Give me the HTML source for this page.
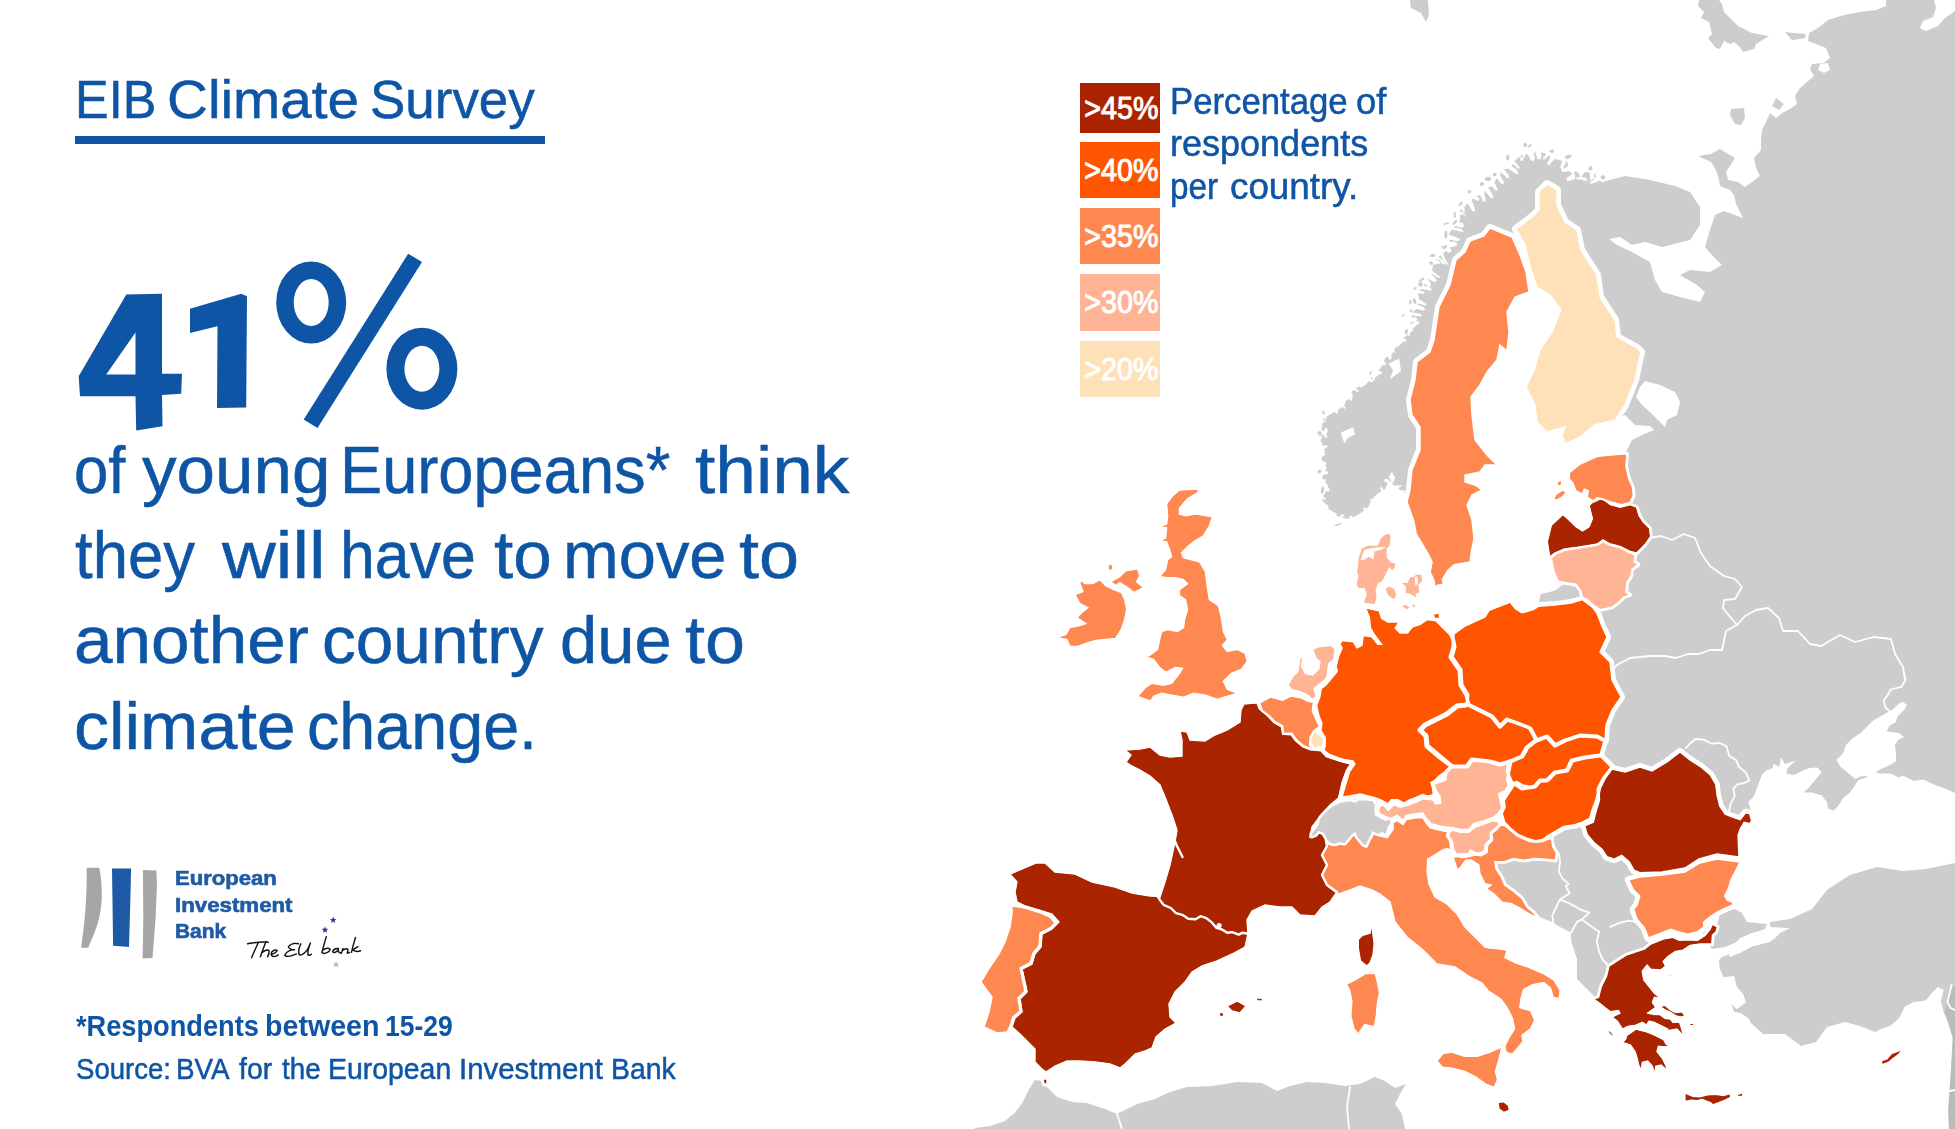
<!DOCTYPE html>
<html lang="en">
<head>
<meta charset="utf-8">
<title>EIB Climate Survey</title>
<style>
html,body{margin:0;padding:0;background:#fff;}
body{width:1955px;height:1129px;position:relative;overflow:hidden;font-family:"Liberation Sans",sans-serif;color:#0e55a5;}
#map{position:absolute;left:0;top:0;}
#map .g path{fill:#cdcdcd;stroke:none;}
#map .w path{fill:#fff;stroke:none;}
#map .dk path{fill:#bbb;stroke:none;}
#map .gt path{fill:#cdcdcd;stroke:#fff;stroke-width:5;paint-order:stroke;stroke-linejoin:round;}
#map .l polyline{fill:none;stroke:#fff;stroke-width:1.8;stroke-linejoin:round;stroke-linecap:round;}
#map .h1 use{fill:none;stroke:#fff;stroke-width:5;stroke-linejoin:round;}
#map .h2 use{fill:none;stroke:#fff;stroke-width:8;stroke-linejoin:round;}
#map .h1 use.th{stroke-width:2.4;}
#map .h2 use.th{stroke-width:4.4;}
#map .l2 polyline{fill:none;stroke:#fff;stroke-width:2.4;stroke-linejoin:round;stroke-linecap:round;}
#map .l2 circle{fill:#fff;}
.c45{fill:#aa2400;} .c40{fill:#ff5500;} .c35{fill:#ff8750;} .c30{fill:#ffb496;} .c20{fill:#ffe1b9;}
.t{position:absolute;white-space:pre;transform-origin:0 0;line-height:1;}
.bw,.tw,.f2w,.lw{-webkit-text-stroke:0.5px #0e55a5;}
.bw{font-size:66px;}.tw{font-size:53px;}.f1w{font-size:29.5px;font-weight:bold;}.f2w{font-size:29.5px;}.lw{font-size:36px;}
.low{font-size:20px;font-weight:bold;color:#1f5aa6;-webkit-text-stroke:0.6px #1f5aa6;}
#title{left:75px;top:74px;font-size:53px;}
#rule{position:absolute;left:75px;top:136px;width:470px;height:7.5px;background:#0e55a5;}
.b{font-size:66px;left:73px;}
#b1{top:437.5px;word-spacing:-3.4px;} #b2{top:522.5px;word-spacing:1px;} #b3{top:607.5px;letter-spacing:0.65px;} #b4{top:693px;letter-spacing:0.2px;}
#f1{left:76px;top:1011.3px;font-size:29.5px;font-weight:bold;transform:scaleX(.926);}
#f2{left:76px;top:1053.8px;font-size:29.5px;transform:scaleX(.968);}
.lg{position:absolute;left:1080px;width:80px;color:#fff;font-weight:normal;-webkit-text-stroke:1px #fff;font-size:31px;text-align:center;}
.lg span{display:inline-block;transform-origin:50% 50%;transform:translateX(1.3px) scaleX(.925);letter-spacing:0;}
#l1{top:83px;height:49.5px;line-height:52px;background:#aa2400;}
#l2{top:141.5px;height:56px;line-height:58px;background:#ff5500;}
#l3{top:208px;height:56px;line-height:58px;background:#ff8750;}
#l4{top:274px;height:56.5px;line-height:58px;background:#ffb496;}
#l5{top:341px;height:56px;line-height:58px;background:#ffe1b9;}
.lt{font-size:36px;left:1170px;}
#lt1{top:84.3px;transform:scaleX(.978);} #lt2{top:126.2px;letter-spacing:.1px;} #lt3{top:168.5px;letter-spacing:.15px;}
.lo{font-size:21px;font-weight:bold;left:176px;color:#1f5aa6;}
#lo1{top:868.4px;letter-spacing:.4px;} #lo2{top:894.7px;letter-spacing:.65px;} #lo3{top:921px;}
#eu{left:247px;top:938px;font-size:22px;font-style:italic;color:#111;font-family:"Liberation Serif",serif;transform:rotate(-5deg) skewX(-8deg);}
#deco{position:absolute;left:0;top:0;}
</style>
</head>
<body>
<svg id="map" width="1955" height="1129" viewBox="0 0 1955 1129">
<defs>
<path id="p_sweden" d="M1490 228L1512 237L1520 255L1526 272L1529 292L1515 297L1507 312L1509 332L1507 351L1500 345L1497 360L1487 372L1480 385L1471 397L1472 415L1475 440L1487 455L1497 465L1485 465L1480 472L1465 475L1465 482L1475 485L1482 490L1472 495L1467 505L1472 520L1474 538.6L1471.2 552.6L1470.2 561.9L1454.4 564.7L1447.9 570.2L1442.3 579.5L1443.3 584.2L1437.7 585.1L1434.9 587L1434 580.5L1430.2 572.1L1432.1 561.9L1428.4 554.4L1421.9 543.3L1416.3 534L1413.5 520L1407 502L1410 490L1412 470L1420 450L1420 427L1412 415L1410 400L1415 380L1417 362L1430 352L1434 340L1439 307L1450 285L1456 260L1465 252L1470 241L1484 236Z"/>
<mask id="m_sweden" maskUnits="userSpaceOnUse" x="1399" y="220" width="138" height="375"><rect x="1399" y="220" width="138" height="375" fill="#fff"/><use href="#p_sweden" fill="#000" stroke="#fff" stroke-width="1.4"/></mask>
<path id="p_finland" d="M1547 184L1557 190L1557 205L1565 222L1577 230L1581 250L1597 275L1600 297L1615 320L1617 337L1637 348L1641 352L1635 380L1625 405L1615 420L1595 425L1580 437L1565 444L1562 435L1565 427L1547 432L1537 422L1535 405L1526 387L1534 370L1540 350L1552 332L1561 310L1550 295L1537 287L1531 270L1525 245L1516 229L1532 217L1539 210L1539 192Z"/>
<mask id="m_finland" maskUnits="userSpaceOnUse" x="1508" y="176" width="141" height="276"><rect x="1508" y="176" width="141" height="276" fill="#fff"/><use href="#p_finland" fill="#000" stroke="#fff" stroke-width="1.4"/></mask>
<path id="p_estonia" d="M1569.4 472.8L1579.3 464.6L1597.3 456.4L1613.7 454.7L1626.8 453.9L1625.9 466.2L1628.4 477.7L1632.5 487.5L1633.3 495.7L1630 502.3L1621.8 504.7L1612 502.3L1600.5 498.2L1594 501.4L1587.4 497.3L1588.3 490.8L1584.2 489.1L1582.5 494.1L1576 490.8L1572.7 482.6L1569.4 479.3ZM1557.1 481.8L1562.1 480.1L1561.2 485.1L1558 486.7ZM1553 499.8L1556.3 494.1L1562.9 490L1566.1 492.4L1562.9 496.5L1557.1 499.8Z"/>
<mask id="m_estonia" maskUnits="userSpaceOnUse" x="1545" y="445.9" width="96.3" height="66.8"><rect x="1545" y="445.9" width="96.3" height="66.8" fill="#fff"/><use href="#p_estonia" fill="#000" stroke="#fff" stroke-width="1.4"/></mask>
<path id="p_latvia" d="M1547.3 541.6L1551.4 525.2L1562.9 514.5L1569.4 520.3L1576 526.8L1582.5 530.9L1589.1 526.8L1592.4 518.6L1589.1 505.5L1597.3 498.2L1603.8 499.8L1610.4 504.7L1620.2 507.2L1630 504.7L1636.6 507.2L1639 515.4L1643.1 521.9L1649.7 528.5L1650.5 536.7L1644.8 544.8L1636.6 553L1630 551.4L1620.2 546.5L1610.4 544L1603 539.9L1597.3 544L1587.4 545.7L1577.6 547.3L1564.5 548.9L1554.7 553L1549.8 557.1Z"/>
<mask id="m_latvia" maskUnits="userSpaceOnUse" x="1539.3" y="490.2" width="119.2" height="74.9"><rect x="1539.3" y="490.2" width="119.2" height="74.9" fill="#fff"/><use href="#p_latvia" fill="#000" stroke="#fff" stroke-width="1.4"/></mask>
<path id="p_lithuania" d="M1551.4 558L1556.3 553.9L1566.1 550.1L1579.3 548.1L1589.1 546.5L1598.1 544.8L1603 541.6L1609.6 545.2L1620.2 547.8L1629.2 552.7L1635 554.7L1634.1 562.1L1638.2 564.5L1631.7 569.4L1630.9 576L1626.8 582.5L1625.9 592.4L1630 594.8L1623.5 597.3L1618.6 602.2L1612 607.1L1600.5 609.6L1594 605.5L1587.4 599.7L1582.5 597.3L1580.9 590.7L1576 584.2L1564.5 582.5L1558 580.9L1553.9 571.1L1552.2 562.9Z"/>
<mask id="m_lithuania" maskUnits="userSpaceOnUse" x="1543.4" y="533.6" width="102.8" height="84"><rect x="1543.4" y="533.6" width="102.8" height="84" fill="#fff"/><use href="#p_lithuania" fill="#000" stroke="#fff" stroke-width="1.4"/></mask>
<path id="p_denmark" d="M1355.8 585.1L1357.7 575.8L1356.3 572.1L1357.7 563.7L1357.7 559.1L1361.4 547.9L1367.9 545.1L1377.2 545.1L1380 538.6L1384.7 534L1390.2 533L1391.2 538.6L1390.2 546L1387.4 548.8L1387.4 557.2L1391.2 561.9L1395.8 562.8L1395.8 566.5L1393 571.2L1389.3 568.4L1385.6 575.8L1382.8 581.4L1378.1 584.2L1376.3 590.7L1377.2 597.2L1375.3 604.7L1365.1 603.7L1363.3 601.9L1366 594.4L1364.2 588.8L1358.6 588.8ZM1384.7 588.8L1389.3 585.6L1394.9 588.8L1396.7 594.4L1395.8 599.1L1392.1 599.1L1387.4 595.3ZM1400.5 582.3L1407 582.3L1409.8 576.7L1414.4 575.8L1415.3 574L1421.9 574L1422.8 581.4L1419.1 585.1L1420 592.6L1416.3 594.4L1417.2 600L1414.4 597.2L1409.8 594.4L1405.1 593.5L1405.1 587ZM1401.4 606.5L1405.1 603.7L1410.7 607.4L1407 610.2ZM1412.6 602.8L1416.3 605.6L1414.4 608.4L1411.8 606Z"/>
<mask id="m_denmark" maskUnits="userSpaceOnUse" x="1347.8" y="525" width="83" height="93.2"><rect x="1347.8" y="525" width="83" height="93.2" fill="#fff"/><use href="#p_denmark" fill="#000" stroke="#fff" stroke-width="1.4"/></mask>
<path id="p_germany" d="M1365.6 607.9L1379.2 610.9L1381.6 618.3L1387.8 622L1398.9 622L1395.2 628.2L1400.1 633.1L1407.5 633.1L1412.4 626.9L1419.8 624.5L1427.2 619.6L1435.8 620.8L1442 626.9L1449.4 634.3L1453.1 641.7L1454 647L1451 657L1460 670L1461 685L1467 695L1466 705L1457 706L1447 714L1435 720L1425 725L1420 730L1426 736L1427 746L1440 757L1451 766L1446 771L1439 776L1435.1 780L1431 782.5L1432.6 788.2L1433.4 794.8L1427.7 796.1L1422.7 794.4L1416.1 797.3L1409.5 799.8L1403.8 803.1L1398 799.8L1391.4 799.8L1388.1 803.9L1380.7 799.8L1374.9 797.7L1370 796.5L1360 794L1350 796L1342.1 797L1343.2 792.8L1346.4 782.1L1349.6 771.5L1354.9 764L1352.8 760.9L1345.3 759.8L1337.9 757.7L1329.4 754.5L1324 750.2L1325.1 746L1325.1 737.4L1320.9 730L1321.9 723.6L1318.7 715.1L1316.6 705.5L1319.8 697L1321.3 688.5L1326.2 684.8L1331.1 678.7L1337.3 671.3L1336.1 666.4L1338.5 656.5L1342.2 647.9L1339.8 644.2L1342.2 640.5L1353.3 641.7L1357 647.9L1361.9 645.4L1363.2 635.6L1371.8 636.8L1377.9 644.2L1381.6 644.2L1377.9 639.3L1374.2 634.3L1370.5 628.2L1369.3 617.1ZM1433 614L1439 613L1440 618L1435 619Z"/>
<mask id="m_germany" maskUnits="userSpaceOnUse" x="1308.6" y="599.9" width="166.4" height="212"><rect x="1308.6" y="599.9" width="166.4" height="212" fill="#fff"/><use href="#p_germany" fill="#000" stroke="#fff" stroke-width="1.4"/><use href="#p_france_spain" fill="#000"/></mask>
<path id="p_poland" d="M1454 634L1465 626L1485 617L1489.1 610.4L1510.4 602.2L1515.4 608.7L1521.9 612.8L1533.4 609.6L1538.3 606.3L1554.7 605.1L1571.1 603L1582.5 599.7L1592.4 607.1L1597.3 613.7L1601.4 625L1607 637L1600 652L1610 662L1612 680L1621 697L1612 710L1606 725L1605 740L1597 736L1580 735L1565 740L1555 745L1547 736L1537 740L1530 727L1517 722L1507 719L1500 726L1492 716L1480 710L1470 705L1467 695L1461 685L1460 670L1451 657L1454 647Z"/>
<mask id="m_poland" maskUnits="userSpaceOnUse" x="1443" y="591.7" width="186" height="161.3"><rect x="1443" y="591.7" width="186" height="161.3" fill="#fff"/><use href="#p_poland" fill="#000" stroke="#fff" stroke-width="1.4"/><use href="#p_lithuania" fill="#000"/></mask>
<path id="p_czechia" d="M1420 730L1425 725L1435 720L1447 714L1457 706L1466 705L1470 706L1480 711L1492 717L1500 727L1507 720L1517 724L1530 729L1536 740L1527 747L1522 756L1510 761L1500 764L1490 761L1472 759L1467 766L1452 766L1440 757L1427 746L1426 736Z"/>
<mask id="m_czechia" maskUnits="userSpaceOnUse" x="1412" y="697" width="132" height="77"><rect x="1412" y="697" width="132" height="77" fill="#fff"/><use href="#p_czechia" fill="#000" stroke="#fff" stroke-width="1.4"/></mask>
<path id="p_slovakia" d="M1536 741L1547 737L1555 746L1565 741L1580 736L1597 737L1604 741L1600 755L1585 757L1572 760L1567 770L1555 772L1547 780L1540 780L1535 786L1522 788L1512 781L1508 771L1510 762L1522 757L1527 748Z"/>
<mask id="m_slovakia" maskUnits="userSpaceOnUse" x="1500" y="728" width="112" height="68"><rect x="1500" y="728" width="112" height="68" fill="#fff"/><use href="#p_slovakia" fill="#000" stroke="#fff" stroke-width="1.4"/></mask>
<path id="p_hungary" d="M1516.6 783.3L1522.4 786.6L1530 788.2L1535 787L1540 781L1547 781L1555 773L1567 771L1572 761L1585 758L1600 756L1611 767L1604 777L1599 787L1595.8 800L1592.1 809.9L1589.7 818.5L1582.3 822.2L1574.9 824.6L1563.8 826.5L1553.9 832L1547.8 835.7L1542.9 839.4L1535.5 840.6L1526.8 838.2L1518.2 834.5L1510.8 828.3L1504.7 822.2L1502.2 813.5L1505.1 807.2L1504.3 800.6L1508.4 794L1513.3 786.6Z"/>
<mask id="m_hungary" maskUnits="userSpaceOnUse" x="1494.2" y="748" width="124.8" height="100.6"><rect x="1494.2" y="748" width="124.8" height="100.6" fill="#fff"/><use href="#p_hungary" fill="#000" stroke="#fff" stroke-width="1.4"/></mask>
<path id="p_austria" d="M1379 810L1379.1 807.2L1383.2 804.7L1388.1 810.5L1393.9 804.7L1400.5 807.2L1409.5 804.7L1416.1 802.2L1422.7 798.9L1432.6 799.8L1435.9 803.9L1440.8 803.1L1440 796.5L1435.9 789.9L1434.3 784.1L1441.7 781.6L1445.8 780L1447 772L1452 767L1467 767L1472 760L1490 762L1500 765L1510 762L1508 771L1506.7 780L1508.4 785L1505.1 790.7L1498.5 794L1500.1 800.6L1501.8 808L1498.5 813L1493.6 817.1L1485.3 820.4L1473.8 823.7L1468.8 829.4L1460.6 829.4L1452.4 827.8L1440 826.1L1431 823.7L1426 817.9L1422.7 813L1416.1 813.8L1406.2 815.4L1403 820.4L1397.2 815.4L1390.6 818.7L1384.8 816.2L1379 813Z"/>
<mask id="m_austria" maskUnits="userSpaceOnUse" x="1371" y="752" width="147" height="85.4"><rect x="1371" y="752" width="147" height="85.4" fill="#fff"/><use href="#p_austria" fill="#000" stroke="#fff" stroke-width="1.4"/></mask>
<path id="p_slovenia" d="M1449.1 832.7L1452.4 830.2L1460.6 832.3L1468.8 832.3L1475.4 827L1485.3 823.7L1491.9 821.2L1497.7 821.2L1499.3 824.5L1495.2 828.6L1490.3 832.7L1490.3 839.3L1485.3 844.3L1484.5 850.8L1479.6 853.3L1474.6 852.5L1470.5 850L1468 854.1L1460.6 853.3L1456.5 854.1L1453.2 848.4L1452.4 841L1449.1 836.8Z"/>
<mask id="m_slovenia" maskUnits="userSpaceOnUse" x="1441.1" y="813.2" width="66.2" height="48.9"><rect x="1441.1" y="813.2" width="66.2" height="48.9" fill="#fff"/><use href="#p_slovenia" fill="#000" stroke="#fff" stroke-width="1.4"/></mask>
<path id="p_croatia" d="M1453.2 857.4L1457.3 856.6L1463.9 857.5L1468.8 856.6L1475.4 855L1481.2 855.8L1487 852.5L1487.8 845.1L1492.7 840.1L1491.9 833.5L1496.9 829.4L1501 824.9L1505.9 826.1L1511.7 831.1L1519.9 836.8L1530 841.8L1534.2 841.3L1541.6 841.9L1547.8 839.4L1551.5 838.2L1552.7 846.8L1556.4 853L1555.2 860.3L1545.3 859.1L1534.2 858.5L1524.4 860.3L1513.3 858.5L1504.7 861.6L1494.8 861.6L1496.1 869L1501 876.4L1504.7 885L1513.3 891.1L1521.9 898.5L1526.8 907.1L1534.2 913.3L1537.9 918.2L1530.5 914.5L1518.2 907.1L1510.8 903.4L1502.2 902.2L1493.6 893.6L1486.2 888.7L1491.1 885L1485 883.7L1480 873.9L1478.8 865L1471.4 860L1466 860L1463.1 863.5L1460.6 867.3L1457.3 869.8Z"/>
<mask id="m_croatia" maskUnits="userSpaceOnUse" x="1445.2" y="816.9" width="119.2" height="109.3"><rect x="1445.2" y="816.9" width="119.2" height="109.3" fill="#fff"/><use href="#p_croatia" fill="#000" stroke="#fff" stroke-width="1.4"/></mask>
<path id="p_romania" d="M1612 769L1625 772L1640 767L1652 771L1667 762L1680 752L1690 760L1700.8 766.8L1710.3 774.9L1715.8 784.4L1717.1 795.2L1719.8 806.1L1725.2 814.2L1732 816.9L1740.2 819.6L1745.6 812.8L1749.6 813.5L1751.7 821L1749.6 823.7L1744.2 822.3L1740.2 829.1L1738.1 835L1738.5 846L1739 857L1717 854L1699 859L1685 868L1662 872L1640 872.7L1634 870.2L1629.1 861.6L1621.7 855.4L1614.3 859.1L1606.9 856.7L1602 849.3L1594.6 843.1L1587.2 834.5L1584.7 825.9L1593.3 822.2L1595.8 812.3L1599.5 800L1599 789L1604 779Z"/>
<mask id="m_romania" maskUnits="userSpaceOnUse" x="1576.7" y="744" width="183" height="136.7"><rect x="1576.7" y="744" width="183" height="136.7" fill="#fff"/><use href="#p_romania" fill="#000" stroke="#fff" stroke-width="1.4"/></mask>
<path id="p_bulgaria" d="M1628.7 880L1640 877L1662 875L1685 872L1700 863L1717 859L1740 862L1735 872L1730.9 880L1728.4 888.6L1724.7 896L1727.2 900.3L1732.1 902.2L1733.4 904.6L1724.7 908.3L1717.3 912L1710 916.9L1703.8 921.9L1703.8 926.8L1697.6 931.7L1687.8 934.2L1677.9 931.7L1670.5 929.3L1658.2 934.2L1648.4 937.9L1644.7 928L1637.3 919.4L1633.6 909.6L1637.3 904.6L1639.8 896L1633.6 889.9Z"/>
<mask id="m_bulgaria" maskUnits="userSpaceOnUse" x="1620.7" y="851" width="127.3" height="94.9"><rect x="1620.7" y="851" width="127.3" height="94.9" fill="#fff"/><use href="#p_bulgaria" fill="#000" stroke="#fff" stroke-width="1.4"/></mask>
<path id="p_greece" d="M1609 966.2L1626.2 955.1L1644.7 949L1650.8 944L1663.2 939.1L1673 937.3L1679.2 940.3L1687.8 939.7L1697.6 940.3L1705 935.4L1710 929.3L1712.4 924.3L1717.3 926.8L1716.1 931.7L1712.4 935.4L1711.8 944L1700.1 944L1690.2 945.3L1682.9 950.2L1675.5 951.4L1668.1 956.4L1663.2 961.3L1665.6 966.2L1660.7 969.9L1650.8 969.3L1647.1 965L1642.2 971.1L1643.8 979.9L1649.1 986.6L1654.4 993.2L1661 998.5L1654.4 997.2L1652.4 1002.5L1655.7 1007.2L1647.7 1013.1L1654.4 1014.5L1659.7 1014.5L1665 1018.4L1670.3 1019.1L1673 1022.4L1679.6 1022.4L1681 1026.4L1683.6 1036.4L1677 1029.1L1669 1030.4L1662.4 1032.4L1667.7 1029.1L1662.4 1026.4L1654.4 1022.4L1649.1 1021.1L1646.4 1025.1L1642.4 1022.4L1635.8 1025.1L1627.8 1026.4L1622.5 1029.1L1617.2 1021.1L1611.9 1017.1L1619.9 1013.1L1618.5 1010.5L1610.6 1011.8L1605.2 1007.8L1598.6 1002.5L1593.9 999.2L1598.6 997.2L1601.3 986.6L1606.6 975.9ZM1626.5 1035.7L1635.8 1029.1L1646.4 1031.7L1655.7 1035.7L1663.7 1039.7L1666.3 1044.4L1671.7 1045.7L1665 1047L1658.4 1046.3L1657 1051.7L1662.4 1058.3L1666.3 1066.3L1667 1070.3L1661 1064.9L1655.7 1066.3L1655.1 1075.6L1652.4 1066.3L1647.7 1061L1642.4 1062.3L1641.1 1070.3L1639.1 1066.3L1637.1 1058.3L1635.1 1051.7L1630.5 1045L1622.5 1042.4L1625.8 1039ZM1659.7 1006.5L1665 1005.2L1670.3 1009.8L1675.6 1012.5L1682.3 1011.8L1684.9 1015.8L1681 1017.1L1675.6 1015.8L1671.7 1013.1L1665 1009.8ZM1684.9 1092.8L1687.6 1094.2L1692.9 1096.2L1699.6 1096.8L1707.5 1094.8L1715.5 1094.2L1723.5 1095.5L1730.1 1093.5L1730.8 1097.5L1723.5 1100.8L1712.8 1104.8L1710.8 1102.8L1702.2 1099.5L1696.9 1100.8L1691.6 1100.1L1684.9 1101.5ZM1735.4 1096.8L1738.1 1094.2L1742.7 1092.8L1742.7 1096.2ZM1608 1030.4L1610 1030.6L1614.5 1036.4L1612 1036L1609 1033.5ZM1689 1023L1694 1023.5L1693.5 1025.8L1690 1025.5ZM1659.7 977.3L1663.7 978.5L1663 979.8L1660 979ZM1669 974L1671.7 975L1671.3 976.8L1669 976.2Z"/>
<mask id="m_greece" maskUnits="userSpaceOnUse" x="1585.9" y="916.3" width="164.8" height="196.5"><rect x="1585.9" y="916.3" width="164.8" height="196.5" fill="#fff"/><use href="#p_greece" fill="#000" stroke="#fff" stroke-width="1.4"/></mask>
<path id="p_cyprus" d="M1880.9 1063.3L1882.4 1060.3L1886.9 1058.8L1891.4 1053.6L1897.4 1051.3L1902.6 1049.1L1898.9 1054.3L1892.9 1058.8L1888.4 1062.5L1883.1 1064.3Z"/>
<mask id="m_cyprus" maskUnits="userSpaceOnUse" x="1872.9" y="1041.1" width="37.7" height="31.2"><rect x="1872.9" y="1041.1" width="37.7" height="31.2" fill="#fff"/><use href="#p_cyprus" fill="#000" stroke="#fff" stroke-width="1.4"/></mask>
<path id="p_malta" d="M1498 1102.5L1503.5 1101.5L1508.5 1105.5L1509.5 1110.5L1504 1112.5L1499 1109Z"/>
<mask id="m_malta" maskUnits="userSpaceOnUse" x="1490" y="1093.5" width="27.5" height="27"><rect x="1490" y="1093.5" width="27.5" height="27" fill="#fff"/><use href="#p_malta" fill="#000" stroke="#fff" stroke-width="1.4"/></mask>
<path id="p_italy" d="M1326 841L1337 845L1347 841L1354 831L1360 838L1367 843L1372 833L1380 836L1387.3 837.7L1393.1 829.4L1393.1 822.8L1397.2 820.4L1403 824.5L1406.2 819.5L1416.1 817.9L1422.7 817.5L1426 822.8L1430.1 827.8L1440 830.2L1447.6 831.9L1446.4 836L1449.7 841L1450.5 847.5L1452.2 852.5L1454.5 855.5L1452.4 851L1447.4 848.4L1442.5 850L1433.4 855.8L1427.7 859.1L1427 872L1429 884L1435 897L1447 904L1457 914L1465 927L1475 937L1485 947L1490.1 948L1500.7 949.1L1507.1 950.2L1504.9 957.6L1515.6 962.9L1528.3 967.2L1543.2 973.5L1553.8 979.9L1560.2 990.5L1559.2 998.5L1553.3 997.4L1550.5 988.2L1544 982.6L1532.6 984.6L1523.5 989.5L1520.9 999L1519.8 1007.6L1530.5 1010.7L1534.7 1020.3L1530.5 1028.8L1522 1035.2L1523 1041.6L1517.7 1047.9L1512.4 1054.3L1506 1052.2L1504.9 1045.8L1509.2 1037.3L1514.5 1028.8L1512.4 1018.2L1507.1 1007.6L1500.7 999L1487.9 990.5L1482 983L1470 977L1455 967L1437 964L1422 949L1407 937L1395 922L1390 902L1380 894L1372 890L1360 886L1350 890L1339 894L1327 885L1322 875L1327 865L1322 855L1327 846ZM1436.9 1060.7L1443.3 1053.3L1451.8 1052.2L1464.6 1056.4L1477.3 1056.4L1490.1 1052.2L1501.8 1046.9L1498.6 1060.7L1495.4 1071.3L1497.5 1079.8L1494.3 1087.3L1485.8 1084.1L1475.2 1076.6L1464.6 1071.3L1451.8 1068.1L1442.2 1067.1ZM1346.6 984.2L1355.1 979.9L1365.7 973.5L1375.3 973.5L1377.4 982L1379.5 992.7L1377.4 1003.3L1376.3 1016.1L1374.2 1026.7L1364.6 1024.6L1358.3 1034.1L1354 1028.8L1350.8 1016.1L1351.9 1001.2L1349.8 990.5Z"/>
<mask id="m_italy" maskUnits="userSpaceOnUse" x="1314" y="809.5" width="254.2" height="285.8"><rect x="1314" y="809.5" width="254.2" height="285.8" fill="#fff"/><use href="#p_italy" fill="#000" stroke="#fff" stroke-width="1.4"/></mask>
<path id="p_portugal" d="M1012 906L1025 908L1041 913L1050 917L1055 923L1050 928L1040 933L1039 946L1033 953L1030 963L1020 968L1023 982L1025 991L1018 998L1020 1011L1013 1017L1010 1026L1007 1032L997 1033L984 1027L989 1012L992 997L986 989L981 982L990 967L999 954L1005 942L1010 927L1012 914Z"/>
<mask id="m_portugal" maskUnits="userSpaceOnUse" x="973" y="898" width="90" height="143"><rect x="973" y="898" width="90" height="143" fill="#fff"/><use href="#p_portugal" fill="#000" stroke="#fff" stroke-width="1.4"/></mask>
<path id="p_uk" d="M1179.5 490L1197.5 489L1198.5 492L1187.5 498.9L1179.5 507.9L1179.5 513.9L1185.5 515.9L1195.5 513.9L1212.4 516.9L1209.4 525.8L1203.4 535.8L1193.5 541.8L1187.5 546.8L1181.5 552.8L1183.5 557.7L1191.5 559.7L1199.5 561.7L1205.4 571.7L1207.4 587.6L1209.4 599.6L1218.4 605.6L1221.4 617.5L1223.4 631.5L1227.4 639.5L1222.4 645.4L1227.4 651.4L1237.3 649.4L1245.3 653.4L1247.3 661.4L1241.3 669.4L1231.4 673.3L1223.4 681.3L1227.4 689.3L1237.3 693.3L1223.4 697.3L1217.4 699.3L1205.4 695.3L1193.5 693.3L1183.5 697.3L1171.6 695.3L1161.6 693.3L1153.6 696.3L1150.6 701.2L1137.7 696.3L1145.6 687.3L1151.6 683.3L1163.6 685.3L1171.6 683.3L1179.5 673.3L1182.5 668.4L1175.5 667.4L1165.6 672.4L1159.6 667.4L1153.6 659.4L1147.6 657.4L1137.7 659.4L1149.6 655.4L1157.6 649.4L1159.6 639.5L1161.6 631.5L1167.6 629.5L1177.5 631.5L1183.5 627.5L1184.5 619.5L1187.5 609.6L1185.5 599.6L1179.5 595.6L1179.5 589.6L1187.5 583.6L1183.5 579.7L1175.5 577.7L1167.6 577.7L1159.6 576.7L1165.6 569.7L1167.6 559.7L1171.6 556.7L1169.6 549.8L1166.6 541.8L1159.6 541.8L1165.6 537.8L1166.6 527.8L1159.6 526.8L1166.6 523.9L1167.6 515.9L1166.6 503.9L1172.5 495.9ZM1110.8 581.7L1119.7 576.7L1125.7 570.7L1137.7 568.7L1139.7 575.7L1136.7 581.7L1143.6 587.6L1133.7 592.6L1127.7 587.6L1119.7 582.7L1115.7 585.6Z"/>
<mask id="m_uk" maskUnits="userSpaceOnUse" x="1102.8" y="481" width="152.5" height="228.2"><rect x="1102.8" y="481" width="152.5" height="228.2" fill="#fff"/><use href="#p_uk" fill="#000" stroke="#fff" stroke-width="1.4"/></mask>
<path id="p_ireland" d="M1080.9 579.7L1084.8 583.6L1092.8 583.6L1099.8 579.7L1105.8 585.6L1113.7 589.6L1121.7 592.6L1124.7 599.6L1126.7 609.6L1124.7 619.5L1121.7 628.5L1115.7 638.5L1105.8 639.5L1095.8 640.5L1085.8 643.4L1077.9 646.4L1069.9 646.4L1066.9 639.5L1056.9 637.5L1065.9 634.5L1069.9 627.5L1079.9 625.5L1085.8 623.5L1076.9 617.5L1082.9 611.6L1087.8 607.6L1079.9 603.6L1074.9 594.6L1082.9 591.6L1079.9 583.6ZM1108 565L1111.5 563.5L1112.8 567L1112 570.7L1108.5 570Z"/>
<mask id="m_ireland" maskUnits="userSpaceOnUse" x="1048.9" y="555.5" width="85.8" height="98.9"><rect x="1048.9" y="555.5" width="85.8" height="98.9" fill="#fff"/><use href="#p_ireland" fill="#000" stroke="#fff" stroke-width="1.4"/></mask>
<path id="p_netherlands" d="M1312.7 649.1L1318.8 646.7L1331.1 645.4L1335.4 649.1L1333.6 659L1328.7 663.9L1327.4 673.7L1326.2 678.7L1318.8 684.8L1313.9 688.5L1316.4 695.9L1312.7 699.6L1306.5 694.7L1297.9 691L1291.7 689.8L1288 684.8L1293 676.2L1297.9 671.3L1299.1 663.9L1300.3 656.5L1302.8 657.7L1301.6 666.4L1305.3 673.7L1312.7 675L1318.8 668.8L1320 661.4L1316.4 659L1313.9 652.8Z"/>
<mask id="m_netherlands" maskUnits="userSpaceOnUse" x="1280" y="637.4" width="63.4" height="70.2"><rect x="1280" y="637.4" width="63.4" height="70.2" fill="#fff"/><use href="#p_netherlands" fill="#000" stroke="#fff" stroke-width="1.4"/></mask>
<path id="p_belgium" d="M1259.7 702.9L1270.9 697L1282.6 700.2L1291.1 696L1301.7 698.1L1308.1 701.3L1313.4 702.3L1312.3 710.9L1316.6 720.4L1319.3 726.8L1314.5 730L1310.2 736.4L1309.7 743.8L1310.2 748.1L1303.8 746L1296.4 739.6L1292.1 733.2L1283.6 733.2L1282.6 725.7L1275.1 721.5L1268.7 715.1L1262.3 710.9Z"/>
<mask id="m_belgium" maskUnits="userSpaceOnUse" x="1251.7" y="688" width="75.6" height="68.1"><rect x="1251.7" y="688" width="75.6" height="68.1" fill="#fff"/><use href="#p_belgium" fill="#000" stroke="#fff" stroke-width="1.4"/></mask>
<path id="p_luxembourg" d="M1314.5 731L1320.4 735.3L1324.3 740.6L1322.5 746L1314.5 748.1L1310.7 742.8L1311.3 736.4Z"/>
<mask id="m_luxembourg" maskUnits="userSpaceOnUse" x="1302.7" y="723" width="29.6" height="33.1"><rect x="1302.7" y="723" width="29.6" height="33.1" fill="#fff"/><use href="#p_luxembourg" fill="#000" stroke="#fff" stroke-width="1.4"/></mask>
<path id="p_france_spain" d="M1244 704L1257 702.9L1259.1 708.7L1266.6 715.1L1274 722.6L1281.5 726.8L1282.6 734.3L1291.1 734.8L1295.3 740.6L1302.8 747L1310.2 749.7L1320.9 750.7L1326.2 756.6L1335.7 759.8L1342.1 761.9L1350.6 764L1346.4 770.4L1342.1 782.1L1340 791.7L1338.5 798L1330 805L1321 815L1312 827L1310 837L1317 832L1325 835L1327 846L1322 855L1327 865L1322 875L1327 885L1337 892L1330 902L1322 907L1315 916L1300 915L1292 907L1280 907L1265 905L1252 911L1247 920L1248 933.7L1242.7 932.7L1238.6 934.7L1232.4 932.1L1227.3 932.7L1222.2 929.6L1216 927.5L1211.9 922.4L1205.7 917.8L1200.6 916.2L1195.5 919.3L1188.3 918.8L1183.1 915.2L1176 913.1L1170.8 908L1163.6 904.9L1160.5 900.8L1157.5 896.2L1160 897L1165 882L1170 865L1175 842L1177 830L1172 815L1165 797L1160 785L1150 776L1140 770L1130 765L1126 762L1131 755L1125 750L1140 749L1150 747L1160 755L1170 757L1182 756L1182 740L1180 731L1187 732L1190 740L1205 741L1215 735L1227 730L1240 722L1241 710ZM1372.1 926.8L1373.1 935.3L1374.2 943.8L1373.1 954.4L1370 962.9L1366.8 966.1L1360.4 960.8L1358.3 948L1358.3 939.5L1362.5 935.3L1370 933.1L1371 927.8ZM1010 874L1036 863L1045 863L1055 872L1075 874L1092 882L1115 887L1132 893L1150 896L1157.5 896.2L1160.5 900.8L1163.6 904.9L1170.8 908L1176 913.1L1183.1 915.2L1188.3 918.8L1195.5 919.3L1200.6 916.2L1205.7 917.8L1211.9 922.4L1216 927.5L1222.2 929.6L1227.3 932.7L1232.4 932.1L1238.6 934.7L1242.7 932.7L1248 933.7L1245 947L1232 954L1217 961L1202 966L1192 972L1185 982L1175 992L1169 1004L1170 1017L1176 1023L1165 1029L1156 1037L1152 1048L1145 1051L1135 1054L1125 1064L1120 1068L1110 1064L1095 1062L1080 1061L1067 1061L1055 1066L1046 1072L1042 1069L1035 1062L1035 1049L1030 1044L1020 1034L1012 1027L1015 1018L1022 1012L1020 999L1027 992L1025 982L1022 969L1032 964L1035 954L1041 947L1042 934L1052 929L1059 922L1052 914L1042 911L1025 906L1017 902L1015 892L1017 882ZM1227 1006L1237 1001L1246 1006L1240 1013L1232 1011ZM1256 998L1262 998L1263 1001L1257 1001ZM1219 1013L1223 1012L1224 1016L1220 1017ZM1043 1079L1047 1079L1047 1084L1044 1084Z"/>
<mask id="m_france_spain" maskUnits="userSpaceOnUse" x="1002" y="694.9" width="380.2" height="397.1"><rect x="1002" y="694.9" width="380.2" height="397.1" fill="#fff"/><use href="#p_france_spain" fill="#000" stroke="#fff" stroke-width="1.4"/></mask>
<mask id="m_all" maskUnits="userSpaceOnUse" x="0" y="0" width="1955" height="1129"><rect width="1955" height="1129" fill="#fff"/><g fill="#000">
<use href="#p_sweden"/>
<use href="#p_finland"/>
<use href="#p_estonia"/>
<use href="#p_latvia"/>
<use href="#p_lithuania"/>
<use href="#p_denmark"/>
<use href="#p_germany"/>
<use href="#p_poland"/>
<use href="#p_czechia"/>
<use href="#p_slovakia"/>
<use href="#p_hungary"/>
<use href="#p_austria"/>
<use href="#p_slovenia"/>
<use href="#p_croatia"/>
<use href="#p_romania"/>
<use href="#p_bulgaria"/>
<use href="#p_greece"/>
<use href="#p_cyprus"/>
<use href="#p_malta"/>
<use href="#p_italy"/>
<use href="#p_portugal"/>
<use href="#p_uk"/>
<use href="#p_ireland"/>
<use href="#p_netherlands"/>
<use href="#p_belgium"/>
<use href="#p_luxembourg"/>
<use href="#p_france_spain"/>
</g></mask>
</defs>
<g class="g">
<path d="M1407 500L1406.3 494.8L1404 492.4L1405.5 491.1L1404.9 489.9L1403.4 490.4L1401.9 490.8L1399.2 489.5L1398.2 487.7L1401.5 486.7L1401.6 485.3L1399.7 485.4L1396.9 485.5L1393.9 480.6L1394.5 479.3L1395.1 478.8L1395.2 477.3L1394.2 476.4L1393.9 476.2L1392.1 471.7L1388.6 477.1L1388.9 479.2L1385 478.9L1383.8 480.2L1384.9 481.8L1387.9 482.6L1385 489.5L1383.5 490.1L1381.9 487.2L1380.4 487L1380.5 489.1L1381.1 491.5L1376.2 494.8L1372.1 499.2L1371 498.4L1369.9 498.9L1370.4 500.3L1370.7 501.3L1369.1 505.4L1366.2 509L1364.5 507.2L1363.4 507.7L1363.2 508.9L1364.2 510.6L1358.5 514.3L1353 517.2L1351.8 515.7L1350 516.1L1349 517.2L1349.4 518.7L1347.8 518.7L1342.3 517.8L1344 514.9L1342.8 513.9L1341.4 515L1339.3 517L1337.2 516L1336.2 514.1L1336.5 513.9L1335.7 512.8L1334.5 512.7L1334 512.3L1328.3 509L1328.3 507.8L1328.6 506.8L1327.9 505.1L1326.5 504.4L1326 504.6L1322.1 500.1L1321.9 498.7L1324.9 499.9L1325.9 499.2L1325.1 498L1322.8 496.6L1326.3 491.1L1328.5 491.5L1329.7 490.1L1329.1 488.4L1327.8 487.6L1328.3 485.9L1324.8 481.5L1326.4 480.6L1325.9 479.4L1324.5 479.3L1323 479.4L1322.1 478.8L1323.4 474.6L1327 474.2L1328.2 472.9L1327.5 471.2L1324.8 471.2L1326.6 468.2L1325.6 465.2L1326.2 463.6L1325.8 462L1324.4 461.5L1323.9 462.3L1321.3 459.3L1323.2 455.5L1324.8 455.4L1325.6 454.5L1325.1 453.4L1324.1 453.2L1324.8 450.5L1324.3 448.9L1327.2 446.9L1327.6 445.4L1325.5 445.2L1323.3 446.4L1320.4 439.9L1323 436.4L1326 437.7L1327.3 437.3L1327.4 435.9L1325.1 434.6L1326.6 434.5L1326.4 434.6L1327.8 430.2L1327.1 428.2L1324.8 428.6L1323.5 431.7L1321.3 429.2L1322.7 422.5L1324.9 422L1325.6 421.2L1324.5 420.3L1323 420.4L1323 418.6L1324.3 418L1324.7 420.1L1326 419.9L1326.3 418.5L1326.5 416.7L1331.9 413.3L1334.7 411.8L1335.9 413.7L1337.6 413.4L1338.1 411.7L1337.9 409.9L1340.8 408L1342.6 407.1L1344.5 408.7L1345.9 408.3L1345 406.6L1344.1 405.1L1346.1 400.9L1348.6 398.8L1350.6 400.7L1352 400.5L1352.5 399.2L1351.2 397.5L1353.2 397.3L1351.4 392L1353.8 389.9L1357.4 391.9L1358.7 392L1358.2 390.1L1355.6 388.6L1358.5 386.7L1360.2 386.7L1360.9 387.4L1362.3 387.3L1363.1 386.5L1363 386L1365.6 384.9L1368.4 381.2L1371.8 382L1373.4 381.2L1372.8 379.3L1370.5 378.4L1370.9 377.8L1372.8 377.8L1373 380.1L1374.3 380.5L1375 378.9L1375.5 377.1L1378 376.1L1377.8 374.6L1381.1 374.2L1382.1 372.8L1381.2 371.3L1378.6 371.1L1379.7 369L1382.4 365.3L1384.7 365.2L1386.1 364.2L1385.3 362.5L1383.9 362.2L1385 358.3L1387.8 356.4L1389.4 359.6L1391.2 359.6L1391.6 357.7L1391 354.8L1392.1 354.8L1392.9 351.8L1394.8 353L1395.5 352.4L1395.1 351.5L1393.8 350.2L1395.7 347.7L1401 344.2L1402.4 341.8L1405.5 341.5L1406.7 340.6L1405.9 339L1403.7 339.2L1404.5 337.1L1407.4 335L1408.6 335.9L1409.9 335.5L1410.1 334.2L1409.5 333.3L1413.4 330L1412.6 328.5L1418.6 323.8L1419.5 321.3L1415.6 321.3L1410.9 324.6L1410 322L1410.7 322.6L1415.3 321.2L1417.3 319.5L1415.9 316.9L1412.7 317.8L1411.2 315.3L1420.3 316.4L1422.5 315.8L1419.5 313.4L1412.3 312.4L1416.5 308.9L1423.2 310.5L1425.7 309.4L1422.7 306.6L1418.1 305L1417 305L1418.5 303.5L1424.9 305.6L1427.2 304.2L1423.6 302L1419.3 299.5L1417.9 293.2L1423.4 293.7L1424.6 292.6L1422.8 291.2L1418.5 290.4L1420 290L1422.1 288.9L1429.4 290.4L1432 290.2L1429.9 286.8L1424.5 285.9L1423.7 283.3L1428.6 286.8L1431.1 285.6L1430.5 282.6L1427.2 278.9L1429.3 279.5L1434 282.1L1436.6 281.2L1435.4 277.9L1432.6 275.4L1432 275L1431.4 274.1L1438.8 278.1L1440.9 276.9L1437.6 275L1432.1 270.6L1433 265.1L1439.7 263.4L1441.4 261.5L1439.1 259.4L1434 260.4L1435 260L1435.8 258.7L1443 264L1445.4 264.6L1443.6 260.8L1438.2 256.6L1440.8 255.8L1445.9 264.1L1448.6 265.1L1446 260.6L1443.1 253.9L1445.5 251.1L1448.8 252.8L1451.1 252L1451.3 249.5L1449.3 247.8L1450 247L1450.3 247.5L1456.1 246L1457.6 243.6L1454.5 241.7L1450.3 242.1L1448.6 239.6L1458.4 241.3L1460.5 239.1L1456.3 237.3L1448.6 234.6L1450 232L1451.9 229.5L1461.5 231.7L1463.9 232.2L1461.2 228.7L1453.6 227.5L1455.1 225.9L1461.5 227.4L1464.1 226.6L1463 223.3L1458.5 221.9L1460 220L1460 214.8L1464.8 215.3L1466 213.7L1463.6 212.5L1460 211.3L1460 210L1462.1 209.3L1464 216.1L1466.3 216.7L1464.7 213.2L1464.4 207.3L1467.6 203.3L1472.3 211.2L1475.5 211.3L1474.1 206.8L1471.6 199.9L1472 200L1473 198.3L1477.1 200.8L1479.1 200.6L1479.4 198.4L1476.5 196.1L1480 195L1480.5 196L1483.2 201.5L1486 201.5L1485.2 197.7L1484.3 193L1484.2 190.2L1490.7 197.9L1493.7 198.3L1492.2 193.8L1487.8 187.3L1490 187L1491.6 186.1L1495.5 190.8L1498.1 190.3L1496.6 186.9L1494.6 182.5L1496.4 178L1501.6 183.9L1504.4 183.3L1502.8 179.7L1499.5 174.2L1500 175L1501 172.2L1506.7 177.9L1509.2 178L1508.2 174.5L1504.1 169.6L1508.1 168.5L1515.9 173.7L1518.7 174.2L1516.9 169.8L1511.3 165.9L1512 165L1512.6 163.7L1518 168.4L1520.1 168.2L1518 165.4L1514.4 161.3L1518.4 157.2L1521.6 157.6L1523.2 156.8L1522.5 154.9L1520.4 154.4L1520 154L1521.4 154.6L1520.1 160.2L1522.4 161.5L1523.7 158.3L1526 154.1L1527.8 154.5L1530.6 160L1533.4 161.5L1535.1 157.8L1533.6 154L1535.1 151.5L1537.3 158.5L1540 159.8L1541.6 156.5L1540.7 151L1540 152L1546.5 153.7L1542.8 158.3L1543.6 159.9L1545.6 158.5L1549.4 155.2L1550 157L1550.4 157.8L1547.1 163.5L1548.8 165.6L1551.2 162.6L1555.1 158.9L1562.1 160.7L1560.2 167.4L1561.7 169.8L1564.1 166.3L1566.4 161.8L1567 161L1568.2 166.2L1562.2 168.9L1561.2 171.4L1564.8 172.1L1569.5 170.8L1570 172L1572.5 173.7L1566.6 178.2L1567 181.2L1570.8 180.5L1576.2 178L1577 180L1578.9 179.2L1585.4 180.7L1587.6 180.9L1586 177.8L1581.1 177L1585 172L1589.6 172.6L1590.1 179.5L1591.8 181.5L1594 178.7L1594.1 173.5L1595 174L1596.1 176.4L1590.3 180.9L1590.4 184.1L1594.7 182.8L1599.7 180.5L1602 182L1575 215L1550 215L1530 240L1500 250L1465 280L1445 340L1430 400L1430 460L1420 495ZM1406.6 328.6L1408 330.4L1407.6 333.2L1405.9 334.8L1404.8 333L1405.2 330ZM1404.7 314.5L1404.3 315.6L1403.1 316.6L1401.8 316.3L1402.2 315L1403.4 314.4ZM1410.6 309.6L1412.4 309.9L1412.6 311.3L1411.6 312.4L1410.4 312.2L1409.7 310.8ZM1411 299.4L1411.7 301.4L1411.2 303.2L1409.5 304.3L1408.9 302.8L1409.5 300.5ZM1413.8 297.8L1415.4 298.9L1416.4 302L1415.7 304.3L1413.6 302.9L1412.9 299.3ZM1416.8 286.9L1416.4 288.5L1414.3 290.3L1413.3 290.3L1413.4 288.9L1415.4 287ZM1422.9 283L1422.7 285.9L1420.4 286.8L1418.1 285.9L1418.2 283.4L1420.1 281.8ZM1424.4 278L1424.2 279.6L1420.6 281.7L1418.4 281.6L1419.4 280L1422.8 277.7ZM1432 261.2L1433.1 263L1433 264.7L1430.6 264.8L1428.8 263.1L1429.8 261.7ZM1435.6 255.1L1434.5 256.7L1431.7 256.9L1429.4 256.2L1431.3 254.3L1434.5 254.1ZM1446.8 245L1447 246.8L1445.8 248.5L1443.9 248.7L1443.8 247.1L1444.8 245.3ZM1441.6 245.7L1443 245.9L1444.5 247.7L1444.5 249.3L1442.8 249.1L1441.6 247ZM1445.9 229.9L1447.3 232.3L1447.4 236.7L1445.7 239.3L1444.3 236.4L1444.6 232.3ZM1449.3 223L1448.1 224.1L1444.8 224.7L1443.1 224.2L1444.6 223.1L1448 222.3ZM1457.3 219.6L1456.9 222L1454.4 224.8L1452.6 224.8L1452.5 223.5L1454.8 220.8ZM1454.7 211.5L1455.8 212.7L1455.7 217.2L1454.6 218.1L1453.7 217.1L1453.8 213.1ZM1462.8 201.5L1462.6 203.3L1460.6 205.5L1458.6 206.1L1459 203.8L1461.2 202ZM1471.6 191.2L1470.8 192.8L1468.6 193.4L1467.5 192L1468.1 190L1470.1 190.2ZM1484.3 183L1483.7 185.1L1481.4 186.3L1479.9 185.2L1479.8 183.1L1482.2 182ZM1491.5 178.1L1490.3 180.7L1487 181.2L1484.8 180L1485.4 177.2L1489 176.8ZM1497 173.8L1496.2 175.9L1493.8 176.3L1492.6 175.2L1493.2 173.2L1495.2 172.7ZM1507.9 154.5L1509.2 155.8L1509.1 159.1L1507.7 160.8L1506.2 158.9L1506.4 155.5ZM1527 144.6L1526.7 146.9L1524.7 147.2L1523.4 145.5L1523.6 143.3L1525.4 142.7ZM1531.3 144.5L1531.5 146L1529.4 147.2L1527.6 147.3L1528.2 145.4L1530.2 144.2ZM1553.3 152.7L1552.1 153.1L1549.9 151.9L1549.5 150.6L1550.6 150.3L1553 151.6ZM1554.3 150.5L1553.6 152.3L1551.6 152.9L1550.4 152.1L1550.2 150.6L1552.5 149.5ZM1572 155.2L1570.4 157.9L1566.8 159.1L1564.3 157.8L1566 155.8L1569.2 154.6ZM1579.2 178.1L1576.3 176.7L1574.1 174.1L1574.7 171L1577.3 172.1L1579.8 174.7ZM1577.1 172.2L1577.7 173.4L1576.8 177.1L1575.4 178.7L1575 176.3L1576 173.2ZM1592.6 168.9L1590.9 170.5L1588.5 170L1588.5 167.8L1589.7 166.2L1591.8 166.2ZM1605.6 178.1L1603.7 179.4L1601.2 179.2L1600.6 176.4L1602.6 175L1604.8 175.9ZM1387 476.4L1388.6 477L1390.8 479.8L1391.4 482.1L1389.1 481.1L1386.7 477.7ZM1393.2 485.3L1392.2 483.1L1393.3 481.6L1395.6 482.5L1396.8 484.3L1395.6 486ZM1334 526.1L1335.9 524.6L1339.5 523.2L1341.9 523.1L1339.9 524.8L1336.4 525.9ZM1323.4 486.2L1324.5 488.2L1323.6 492.3L1321.4 494.4L1320.8 491.4L1321.5 487.4ZM1320.7 469.6L1321.8 471.8L1319.8 473.6L1318.2 473.3L1317.5 471.8L1318.3 469.8ZM1321.3 431.8L1321.7 434L1320.3 436L1318.4 434.9L1317.2 432.7L1318.8 431ZM1321.5 435.2L1322.9 434.4L1324.6 436L1325 437.8L1323 437.8L1321.5 436.9ZM1324.7 412.4L1324.7 413.9L1323.4 414.6L1322.2 413.3L1322.1 411.3L1323.7 410.9ZM1371.9 370.7L1371.7 372.4L1370.5 374.4L1369.5 374.8L1369.2 373.7L1370.4 371.5Z"/>
<path d="M1602 182L1625 176L1650 180L1675 186L1690 192L1698 156L1711 154L1720 149L1730 155L1735 158L1726 172L1728 180L1738 182L1745 187L1752 182L1760 176L1756 168L1754 158L1761 150L1761 140L1762 130L1766 122L1770 113L1776 118L1782 113L1790 109L1797 104L1795 96L1800 88L1807 82L1814 76L1810 69L1812 64L1824 63L1830 58L1826 48L1808 41L1809 33L1818 28L1828 20L1844 15L1860 12L1876 10L1886 6L1886 0L1934 0L1936 8L1933 17L1923 21L1920 28L1926 31L1938 26L1945 18L1955 11L1955 793L1944.8 788.4L1934 784.4L1923.2 779.6L1913.7 781L1902.8 775.6L1898.8 777.6L1890.6 773.5L1879.8 773.5L1871.6 771L1866.2 777.6L1858.1 780.3L1854 787.1L1850 792.5L1843.2 797.9L1839.1 804.7L1833.7 810.8L1828.3 808.8L1826.9 802L1821.5 795.2L1812 792.5L1803.9 792.5L1809.3 787.1L1816.1 779L1821.5 772.2L1817.4 767.4L1809.3 768.1L1802.5 770.8L1794.4 774.9L1786.2 773.5L1787.6 768.1L1795.7 760.7L1784.9 764L1780.8 757.3L1779.5 766.8L1773.4 764L1772.7 768.1L1765.9 770.8L1761.8 774.9L1757.8 785.7L1753.7 796.6L1748.3 802L1752.4 815.6L1740 825L1715 815L1700 790L1680 770L1650 785L1612 785L1595 775L1590 745L1595 720L1600 680L1590 640L1590 612L1600 600L1615 580L1620 560L1630 530L1615 480L1625 454L1627 450L1632 440L1642 435L1654 430L1650 426L1635 425L1625 415L1615 420L1600 405L1615 350L1600 310L1585 270L1565 235L1555 215L1580 200Z"/>
<path d="M1410 0L1411 8L1421 13L1426 22L1429 15L1428 0Z"/>
<path d="M1699 0L1698 6L1704 12L1701 18L1709 22L1712 34L1708 38L1716 48L1720 49L1724 41L1730 44L1734 42L1740 47L1743 52L1754 49L1756 44L1769 36L1752 33L1738 26L1730 18L1724 12L1722 4L1719 0Z"/>
<path d="M1785 32L1792 40L1800 39L1805 38L1806 34L1794 33Z"/>
<path d="M1731 109L1744 108L1745 118L1741 125L1735 124L1730 115Z"/>
<path d="M1776 98L1784 104L1779 110L1772 106Z"/>
<path d="M1538.3 604.6L1540.8 594L1554.7 590.7L1565 583L1577 584.5L1581.5 591.5L1583 599L1571.1 602.4L1554.7 604.8Z"/>
<path d="M1341 799L1350 797L1360 795L1370 797L1377 801L1380 807L1379 814L1386 815L1390 820L1385 827L1380 835L1372 832L1367 842L1360 837L1354 830L1347 840L1337 844L1327 840L1325 830L1315 832L1312 827L1319 817L1327 807L1335 802Z"/>
<path d="M1540 917L1552 922L1560 927L1570 932L1572 944L1577 959L1577 979L1587 989L1595 997L1610 985L1640 960L1655 930L1645 890L1620 850L1600 810L1570 810L1540 825L1510 845L1488 866L1498 885L1520 903Z"/>
<path d="M1716 928L1720 914L1735 909L1742 913L1747 922L1767 924L1765 929L1750 934L1737 942L1725 947L1712 949L1705 940L1700 925Z"/>
<path d="M1770 927L1770 922L1790 919L1812 909L1827 890L1850 875L1877 867L1903 871L1926 869L1955 863L1955 1129L1949 1129L1948.3 1109.7L1949.8 1087.2L1951.3 1064.8L1952.8 1037.8L1948.3 1022.9L1943.8 1012.4L1940.8 1000.4L1943.8 989.9L1937.8 986.9L1931.8 992.9L1925.8 1000.4L1913.8 1001.9L1904.9 1006.4L1898.9 1018.4L1889.9 1025.9L1880.9 1028.9L1874.9 1031.9L1859.9 1025.9L1845 1022.1L1827 1027L1816 1042L1801 1046L1785 1034L1763 1034L1751 1023L1748.7 1018.4L1740.7 1013.1L1734.1 1011.8L1731.4 1003.8L1736.7 1009.2L1746 1002.5L1743.4 994.5L1736.7 986.6L1734.1 975.9L1723.5 977.3L1719.5 968L1719 960L1722 957L1735 952L1750 947L1770 942L1780 933L1790 928Z"/>
<path d="M975 1129L975 1128L990 1126L1005 1121L1015 1112.5L1022.5 1102.5L1028.7 1090L1035 1080L1042 1081L1047 1087L1057 1097L1072 1102L1087 1103L1105 1109L1117 1114L1137 1104L1155 1099L1170 1092L1187 1087L1212 1086L1237 1082L1262 1083L1277 1091L1290 1086L1307 1082L1325 1083L1345 1086L1360 1084L1375 1077L1385 1081L1395 1088L1406 1084L1400 1094L1395 1104L1402 1114L1405 1129Z"/>
</g>
<g class="dk">
<path d="M1944.5 1012.4L1948.3 1022.9L1952.8 1037.8L1951.3 1064.8L1949.8 1087.2L1948.3 1109.7L1949 1129L1955 1129L1955 985L1950 990L1948 1003Z"/>
</g>
<g class="w">
<path d="M1684 172L1690 192L1700 207L1700 225L1690 240L1662 247L1645 242L1632 245L1620 237L1609 239L1617 245L1632 252L1650 262L1655 280L1662 292L1680 297L1700 302L1705 292L1697 285L1680 275L1690 270L1710 272L1722 265L1712 255L1705 247L1710 230L1715 215L1724 211L1743 218L1740 212L1736 204L1734 195L1730 190L1720 186L1719 180L1716 170L1711 162L1698 156Z"/>
<path d="M1820 64L1828 63L1830 70L1824 73L1818 70Z"/>
<path d="M1645 381L1660 385L1675 392L1680 402L1677 415L1667 420L1665 427L1660 422L1650 412L1642 405L1636 397L1640 387Z"/>
<path d="M1836.4 760L1843.2 753.2L1845.9 745.1L1852.7 738.3L1860.8 732.9L1866.2 727.4L1873 720.7L1882.5 715.2L1893.3 709.1L1898.8 703.7L1902.8 701.7L1906.9 705.1L1904.2 709.8L1897.4 716.6L1896 722L1889.3 726.1L1886.6 731.5L1898.8 732.9L1904.2 736.9L1898.8 739.6L1894.7 745.1L1896 753.2L1896 761.3L1889.3 765.4L1879.8 769.5L1875 773L1868 776L1860.8 776.2L1855.4 779L1847.2 772.2L1840.5 766.8Z"/>
<path d="M1728 951L1740 938L1755 932L1770 932L1785 928L1774 939L1755 945L1740 953L1730 957Z"/>
<path d="M1340.8 432.8L1347.8 429.2L1353.2 427.5L1354.9 434.5L1347.8 438.1L1344.3 443.4L1342.5 438.1Z"/>
<path d="M1388.6 363.7L1399.2 358.3L1401 370.8L1390 379.6L1393 370Z"/>
</g>
<g class="l">
<polyline points="1650,538 1661,536 1672,540 1684,534 1695,538 1701,553 1710,566 1724,576 1735,579 1742,587 1735,599 1724,600 1723,608 1731,618 1737,625"/>
<polyline points="1737,625 1745,616 1756,610 1768,608 1779,618 1783,631 1798,631 1810,644 1821,646 1840,635 1855,642 1874,637 1891,639 1895,654 1903,667 1905,680 1903,667 1905.5,680 1901.5,686.8 1890.6,689.5 1887.9,694.9 1883.8,700.3 1885.2,707.1 1889.3,711.2"/>
<polyline points="1737,625 1726,631 1722,650 1710,650 1699,654 1688,654 1676,658 1665,656 1650,656 1630,658 1617,665 1611,671"/>
<polyline points="1686,748 1690,743.7 1695.4,739 1703.6,739.6 1711.7,743.7 1719.8,743 1726.6,746.4 1729.3,755.9 1736.1,760 1738.8,766.8 1745.6,772.2 1749.6,780.3 1744.2,783 1737.4,784.4 1733.4,788.4 1734.7,796.6 1730.7,803.4 1729.3,810.1 1727,814"/>
<polyline points="1117,1114 1122,1129"/>
<polyline points="1350,1087 1347,1107 1349,1129"/>
<polyline points="1551.5,838 1554,846.8 1558.9,854.2 1560.1,861.6 1558.9,871.4 1562.6,878.8 1568.7,883.7 1565.9,886.2 1569.6,893.5 1559.7,899.7 1552.3,915.7 1553.5,923.1"/>
<polyline points="1559.7,899.7 1569.6,903.4 1580.6,909.6 1589.3,912.6 1581.9,919.4 1577,921.9 1570.8,933"/>
<polyline points="1581.9,919.4 1591.7,926.8 1599.1,931.7"/>
<polyline points="1599.1,931.7 1596.7,941.6 1599.1,951.4 1602.8,960 1607.7,965"/>
<polyline points="1610.2,926.8 1618.8,923.1 1628.7,920.6 1636,921.9"/>
<polyline points="1951.5,985 1950,992 1947.5,1002 1950.5,1008 1955,1010"/>
<polyline points="1949.8,1091 1955,1090"/>
</g>
<g class="c">
<use href="#p_sweden" class="c35"/>
<use href="#p_finland" class="c20"/>
<use href="#p_estonia" class="c35"/>
<use href="#p_latvia" class="c45"/>
<use href="#p_lithuania" class="c30"/>
<use href="#p_denmark" class="c30"/>
<use href="#p_germany" class="c40"/>
<use href="#p_poland" class="c40"/>
<use href="#p_czechia" class="c40"/>
<use href="#p_slovakia" class="c40"/>
<use href="#p_hungary" class="c40"/>
<use href="#p_austria" class="c30"/>
<use href="#p_slovenia" class="c30"/>
<use href="#p_croatia" class="c35"/>
<use href="#p_romania" class="c45"/>
<use href="#p_bulgaria" class="c35"/>
<use href="#p_greece" class="c45"/>
<use href="#p_cyprus" class="c45"/>
<use href="#p_malta" class="c45"/>
<use href="#p_italy" class="c35"/>
<use href="#p_portugal" class="c35"/>
<use href="#p_uk" class="c35"/>
<use href="#p_ireland" class="c35"/>
<use href="#p_netherlands" class="c30"/>
<use href="#p_belgium" class="c35"/>
<use href="#p_luxembourg" class="c20"/>
<use href="#p_france_spain" class="c45"/>
</g>
<g class="h2" mask="url(#m_all)">
<use href="#p_sweden"/>
<use href="#p_finland"/>
<use href="#p_estonia" class="th"/>
<use href="#p_latvia" class="th"/>
<use href="#p_lithuania" class="th"/>
<use href="#p_denmark"/>
<use href="#p_germany"/>
<use href="#p_poland"/>
<use href="#p_czechia"/>
<use href="#p_slovakia"/>
<use href="#p_hungary"/>
<use href="#p_austria"/>
<use href="#p_slovenia" class="th"/>
<use href="#p_croatia" class="th"/>
<use href="#p_romania"/>
<use href="#p_bulgaria"/>
<use href="#p_greece" class="th"/>
<use href="#p_cyprus"/>
<use href="#p_malta"/>
<use href="#p_italy" class="th"/>
<use href="#p_portugal"/>
<use href="#p_uk"/>
<use href="#p_ireland"/>
<use href="#p_netherlands" class="th"/>
<use href="#p_belgium" class="th"/>
<use href="#p_luxembourg" class="th"/>
<use href="#p_france_spain" class="th"/>
</g>
<g class="h1">
<use href="#p_sweden" mask="url(#m_sweden)"/>
<use href="#p_finland" mask="url(#m_finland)"/>
<use href="#p_estonia" mask="url(#m_estonia)" class="th"/>
<use href="#p_latvia" mask="url(#m_latvia)" class="th"/>
<use href="#p_lithuania" mask="url(#m_lithuania)" class="th"/>
<use href="#p_denmark" mask="url(#m_denmark)"/>
<use href="#p_germany" mask="url(#m_germany)"/>
<use href="#p_poland" mask="url(#m_poland)"/>
<use href="#p_czechia" mask="url(#m_czechia)"/>
<use href="#p_slovakia" mask="url(#m_slovakia)"/>
<use href="#p_hungary" mask="url(#m_hungary)"/>
<use href="#p_austria" mask="url(#m_austria)"/>
<use href="#p_slovenia" mask="url(#m_slovenia)" class="th"/>
<use href="#p_croatia" mask="url(#m_croatia)" class="th"/>
<use href="#p_romania" mask="url(#m_romania)"/>
<use href="#p_bulgaria" mask="url(#m_bulgaria)"/>
<use href="#p_greece" mask="url(#m_greece)" class="th"/>
<use href="#p_cyprus" mask="url(#m_cyprus)"/>
<use href="#p_malta" mask="url(#m_malta)"/>
<use href="#p_italy" mask="url(#m_italy)" class="th"/>
<use href="#p_portugal" mask="url(#m_portugal)"/>
<use href="#p_uk" mask="url(#m_uk)"/>
<use href="#p_ireland" mask="url(#m_ireland)"/>
<use href="#p_netherlands" mask="url(#m_netherlands)" class="th"/>
<use href="#p_belgium" mask="url(#m_belgium)" class="th"/>
<use href="#p_luxembourg" mask="url(#m_luxembourg)" class="th"/>
<use href="#p_france_spain" mask="url(#m_france_spain)" class="th"/>
</g>
<g class="gt">
<path d="M1312 833.8L1318.4 825.3L1320.5 818.2L1326.9 811.2L1331.8 806.9L1340.3 802.7L1350.2 801.2L1355.2 802.7L1358.7 800.5L1365.8 800.5L1372.2 801.2L1375 804.8L1374.3 809.7L1375 815.4L1380 818.2L1385.7 821L1389.2 819.7L1390.6 822.5L1387.8 826.7L1386.4 831.7L1385 834.5L1382.8 831.7L1378.6 833.8L1375 832.4L1372.2 831L1370.8 835.2L1368 840.2L1365.8 845.2L1363 843.7L1360.2 840.2L1357.3 836.7L1355.2 831.7L1351.7 834.5L1348.1 838.8L1344.6 843L1338.9 842.3L1334.7 843.7L1330.4 843L1327.6 840.2L1325.5 836L1323.3 832.4L1318.4 831L1315.5 834.5L1312 836Z"/>
</g>
<g class="l2">
<polyline points="1157.5,896.2 1160.5,900.8 1163.6,904.9 1170.8,908 1176,913.1 1183.1,915.2 1188.3,918.8 1195.5,919.3 1200.6,916.2 1205.7,917.8 1211.9,922.4 1216,927.5 1222.2,929.6 1227.3,932.7 1232.4,932.1 1238.6,934.7 1242.7,932.7 1248,933.7"/>
<polyline points="1174.5,840 1177,846 1180,852 1182.5,857"/>
<circle cx="1219.1" cy="925.5" r="2.6"/>
</g>
<g class="w">
<path d="M1360.5 560L1364.2 549.8L1370.7 548.2L1379.1 547.3L1386.5 547.3L1380.9 549.8L1374.4 551.6L1373.5 559.5L1368.8 556.7L1364.2 560Z"/>
<path d="M1414.8 577L1417.3 576.5L1418 584L1415.3 585.5Z"/>
</g>
</svg>
<svg id="deco" width="1000" height="1129" viewBox="0 0 1000 1129">
 <g fill="#0e55a5">
  <path fill-rule="evenodd" d="M126.3 294.5 L162 293.7 L162 373.7 L182 373.7 L181.2 393.7 L162 395 L162.5 426.2 L136.2 430.5 L135.5 396.2 L80 396.2 L78.7 376.2 Z M135.5 332.5 L135.5 374.5 L106.2 374.5 Z"/>
  <path d="M190 308.7 L241.2 293.7 L247 296.2 L246.2 407.5 L217 408 L217.5 326.2 L190 333 Z"/>
  <path fill-rule="evenodd" d="M276.2 302.5 a35 41 0 1 0 70 0 a35 41 0 1 0 -70 0 Z M293.7 302.5 a17.5 23.5 0 1 1 35 0 a17.5 23.5 0 1 1 -35 0 Z"/>
  <path fill-rule="evenodd" d="M386.4 368.7 a35.5 41 0 1 0 71 0 a35.5 41 0 1 0 -71 0 Z M404.4 368.7 a17.5 23 0 1 1 35 0 a17.5 23 0 1 1 -35 0 Z"/>
  <path d="M408.2 253.7 L422 262 L317.5 428 L303.7 419.5 Z"/>
 </g>
 <!-- EIB logo bars -->
 <path fill="#a6a6a6" d="M86.7 867.7 L99.3 867.7 Q102.3 883 101.7 899.4 Q100.8 918 93.8 934.3 L88.2 947.8 L81.1 947.8 Q85 920 85.9 902.6 Q86.9 885 86.7 867.7 Z"/>
 <path fill="#1f5aa6" d="M112 868.5 L131.1 868.5 L130.3 902.6 L129 947 L113.1 945.7 L112.5 902.6 Z"/>
 <path fill="#a6a6a6" d="M142.9 870.1 L156.4 870.5 L156.9 886.7 L155.6 918.4 L152.5 958.1 L142.6 958.4 L143.3 918.4 Z"/>
 <!-- The EU bank (handwriting) -->
 <g transform="translate(70 855) scale(0.15858)" fill="none" stroke="#111" stroke-width="9" stroke-linecap="round" stroke-linejoin="round">
  <path d="M1120 560 Q1190 545 1250 550 M1188 552 Q1165 600 1145 648"/>
  <path d="M1236 545 Q1215 600 1200 642 M1208 618 Q1240 590 1255 603 Q1258 620 1246 642"/>
  <path d="M1270 626 Q1300 618 1306 602 Q1290 592 1272 612 Q1262 636 1285 641 Q1300 640 1314 630"/>
  <path d="M1440 560 Q1400 550 1377 578 Q1385 598 1416 597 M1398 598 Q1358 612 1355 634 Q1380 648 1428 624"/>
  <path d="M1456 560 Q1436 600 1445 630 Q1470 636 1500 592 Q1510 570 1516 555 Q1498 600 1500 630 Q1510 636 1522 626"/>
  <path d="M1616 515 Q1600 570 1588 616 M1592 602 Q1620 580 1640 594 Q1640 612 1602 621 Q1592 620 1588 612"/>
  <path d="M1692 590 Q1668 586 1656 608 Q1664 626 1690 600 L1693 590 Q1686 612 1706 618"/>
  <path d="M1721 590 L1712 619 M1716 604 Q1740 584 1753 594 Q1752 606 1748 618 Q1754 620 1762 614"/>
  <path d="M1800 520 Q1785 570 1775 614 M1816 578 Q1795 590 1784 599 Q1806 614 1832 604"/>
 </g>
 <!-- stars -->
 <g fill="#2b3f9a">
  <path transform="translate(333.2 920)" d="M0 -3.4 L1 -1 L3.3 -1 L1.5 0.6 L2.1 3 L0 1.6 L-2.1 3 L-1.5 0.6 L-3.3 -1 L-1 -1 Z"/>
  <path transform="translate(325 929.8)" d="M0 -3.4 L1 -1 L3.3 -1 L1.5 0.6 L2.1 3 L0 1.6 L-2.1 3 L-1.5 0.6 L-3.3 -1 L-1 -1 Z"/>
 </g>
 <path fill="#b5b3d6" transform="translate(336.1 964.4)" d="M0 -3.4 L1 -1 L3.3 -1 L1.5 0.6 L2.1 3 L0 1.6 L-2.1 3 L-1.5 0.6 L-3.3 -1 L-1 -1 Z"/>
</svg>
<div id="rule"></div>
<div class="t bw" style="left:74.38px;top:437.43px;transform:scaleX(0.9347)">of</div>
<div class="t bw" style="left:141.95px;top:437.43px;transform:scaleX(1.0476)">young</div>
<div class="t bw" style="left:340.46px;top:437.43px;transform:scaleX(0.9574)">Europeans*</div>
<div class="t bw" style="left:694.94px;top:437.43px;transform:scaleX(1.1075)">think</div>
<div class="t bw" style="left:75.29px;top:522.43px;transform:scaleX(0.9616)">they</div>
<div class="t bw" style="left:221.68px;top:522.43px;transform:scaleX(1.1293)">will</div>
<div class="t bw" style="left:339.75px;top:522.43px;transform:scaleX(0.9493)">have</div>
<div class="t bw" style="left:493.50px;top:522.43px;transform:scaleX(1.0480)">to</div>
<div class="t bw" style="left:562.50px;top:522.43px;transform:scaleX(1.0130)">move</div>
<div class="t bw" style="left:739.16px;top:522.43px;transform:scaleX(1.0908)">to</div>
<div class="t bw" style="left:74.15px;top:607.43px;transform:scaleX(1.0495)">another</div>
<div class="t bw" style="left:321.50px;top:607.43px;transform:scaleX(1.0236)">country</div>
<div class="t bw" style="left:560.02px;top:607.43px;transform:scaleX(1.0141)">due</div>
<div class="t bw" style="left:684.96px;top:607.43px;transform:scaleX(1.0908)">to</div>
<div class="t bw" style="left:74.13px;top:692.73px;transform:scaleX(1.0609)">climate</div>
<div class="t bw" style="left:306.59px;top:692.73px;transform:scaleX(0.9796)">change.</div>
<div class="t tw" style="left:75.19px;top:73.34px;transform:scaleX(0.9516)">EIB</div>
<div class="t tw" style="left:166.86px;top:73.34px;transform:scaleX(1.0685)">Climate</div>
<div class="t tw" style="left:369.50px;top:73.34px;transform:scaleX(0.9988)">Survey</div>
<div class="t f1w" style="left:76.25px;top:1011.28px;transform:scaleX(0.9221)">*Respondents</div>
<div class="t f1w" style="left:265.28px;top:1011.28px;transform:scaleX(0.9702)">between</div>
<div class="t f1w" style="left:385.00px;top:1011.28px;transform:scaleX(0.8981)">15-29</div>
<div class="t f2w" style="left:75.57px;top:1053.78px;transform:scaleX(0.9343)">Source:</div>
<div class="t f2w" style="left:175.86px;top:1053.78px;transform:scaleX(0.9427)">BVA</div>
<div class="t f2w" style="left:239.00px;top:1053.78px;transform:scaleX(0.9609)">for</div>
<div class="t f2w" style="left:281.50px;top:1053.78px;transform:scaleX(0.9421)">the</div>
<div class="t f2w" style="left:328.32px;top:1053.78px;transform:scaleX(0.9628)">European</div>
<div class="t f2w" style="left:458.86px;top:1053.78px;transform:scaleX(0.9972)">Investment</div>
<div class="t f2w" style="left:611.33px;top:1053.78px;transform:scaleX(0.9620)">Bank</div>
<div class="t low" style="left:175.40px;top:868.17px;transform:scaleX(1.1042)">European</div>
<div class="t low" style="left:175.39px;top:894.87px;transform:scaleX(1.1132)">Investment</div>
<div class="t low" style="left:175.45px;top:921.37px;transform:scaleX(1.0454)">Bank</div>
<div class="t lw" style="left:1169.82px;top:84.33px;transform:scaleX(0.9646)">Percentage</div>
<div class="t lw" style="left:1356.24px;top:84.33px;transform:scaleX(1.0093)">of</div>
<div class="t lw" style="left:1169.75px;top:126.13px;transform:scaleX(1.0003)">respondents</div>
<div class="t lw" style="left:1169.90px;top:168.53px;transform:scaleX(0.9252)">per</div>
<div class="t lw" style="left:1230.33px;top:168.53px;transform:scaleX(1.0224)">country.</div>

<div class="lg" id="l1"><span>&gt;45%</span></div>
<div class="lg" id="l2"><span>&gt;40%</span></div>
<div class="lg" id="l3"><span>&gt;35%</span></div>
<div class="lg" id="l4"><span>&gt;30%</span></div>
<div class="lg" id="l5"><span>&gt;20%</span></div>
</body>
</html>
